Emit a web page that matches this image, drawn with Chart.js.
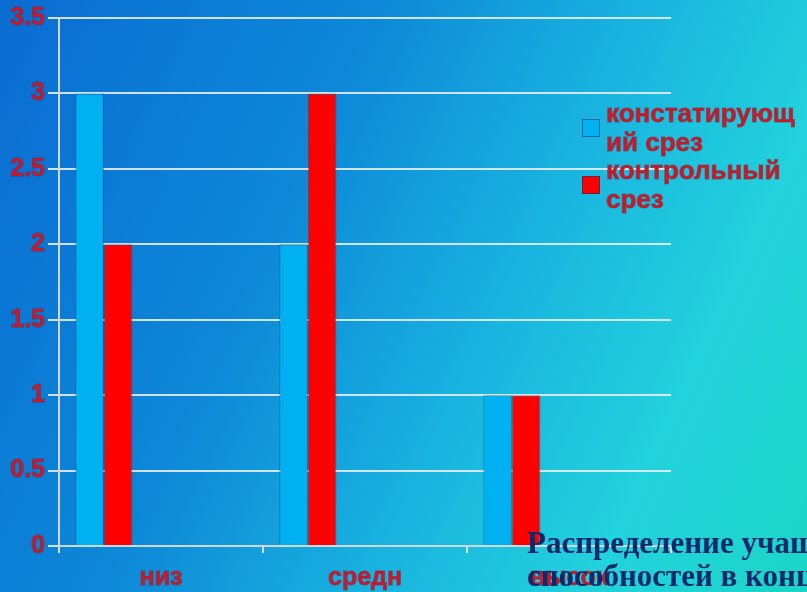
<!DOCTYPE html>
<html>
<head>
<meta charset="utf-8">
<script src="https://cdn.jsdelivr.net/npm/chart.js@4/dist/chart.umd.min.js"></script>
<style>
  html,body{margin:0;padding:0;}
  body{width:807px;height:592px;overflow:hidden;position:relative;
    background:linear-gradient(115deg,#0a6cd2 0%,#0d88d8 35%,#19b4e0 60%,#22d2dc 80%,#1ad6c6 100%);}
  #wrap{position:absolute;left:0;top:0;width:807px;height:592px;}
  #title{position:absolute;left:527px;top:526px;width:500px;
    font-family:"Liberation Serif","Times New Roman",serif;font-weight:bold;font-size:31px;
    line-height:33px;color:#0b2a6e;white-space:nowrap;}
</style>
</head>
<body>
<div id="wrap"><canvas id="c" width="807" height="592"></canvas></div>
<div id="title">Распределение учащихся по уровню<br>способностей в конце года</div>
<script>
const CATS = ["низ","средн","высок"];
const SERIES = ["констатирующ ий срез","контрольный срез"];
const VAL_KONST = [3,2,1];
const VAL_KONTR = [2,3,1];
const Y_MAX = 3.5, Y_STEP = 0.5;

const RED_TXT = "#c41a2b";
const COLORS = ["#00b0f0","#ff0000"];
const FONT = "'Liberation Sans', Arial, sans-serif";

// empty datasets push the pair to the left side of each category (as in the original)
const pad = () => ({ label:"", data:[null,null,null], backgroundColor:"transparent", hideLegend:true });

const legendPlugin = {
  id:"sideLegend",
  afterDraw(chart){
    const ctx = chart.ctx;
    const lines = [["констатирующ","ий срез"],["контрольный","срез"]];
    ctx.save();
    ctx.font = "bold 26px " + FONT;
    ctx.textBaseline = "middle";
    ctx.lineWidth = 1;
    let y = 115;
    chart.data.datasets.filter(d=>!d.hideLegend).forEach((d,i)=>{
      ctx.fillStyle = d.backgroundColor;
      ctx.fillRect(582, y+4, 18, 18);
      ctx.strokeStyle = "rgba(0,60,100,0.6)";
      ctx.strokeRect(582.5, y+4.5, 17, 17);
      ctx.strokeStyle = "rgba(110,0,20,0.45)";
      ctx.fillStyle = RED_TXT;
      lines[i].forEach((t,k)=>{
        ctx.strokeText(t, 606, y + k*28.5);
        ctx.fillText(t, 606, y + k*28.5);
      });
      y += 57;
    });
    ctx.restore();
  }
};

const tickFont = { family:FONT, size:25, weight:"bold" };

new Chart(document.getElementById("c"), {
  type:"bar",
  data:{
    labels:CATS,
    datasets:[
      { label:SERIES[0], data:VAL_KONST, backgroundColor:COLORS[0], borderColor:"rgba(0,70,110,0.55)", borderWidth:1 },
      { label:SERIES[1], data:VAL_KONTR, backgroundColor:COLORS[1], borderColor:"rgba(90,20,40,0.45)", borderWidth:1 },
      pad(), pad(), pad(), pad()
    ]
  },
  options:{
    responsive:false, animation:false,
    layout:{ padding:{ top:18, right:136, left:0, bottom:0 } },
    datasets:{ bar:{ categoryPercentage:0.84, barPercentage:1 } },
    plugins:{ legend:{ display:false }, tooltip:{ enabled:false } },
    scales:{
      x:{
        grid:{ drawOnChartArea:false, offset:true, color:"#d8dde2", tickLength:7, lineWidth:2 },
        border:{ color:"#cfd6dc", width:2 },
        ticks:{ color:RED_TXT, padding:10, font:tickFont, textStrokeColor:"rgba(110,0,20,0.45)", textStrokeWidth:1 },
        afterFit(s){ s.height = 46; }
      },
      y:{
        min:0, max:Y_MAX,
        grid:{ color:"rgba(230,236,240,0.9)", lineWidth:2, tickLength:11 },
        border:{ color:"#cfd6dc", width:2 },
        ticks:{ stepSize:Y_STEP, color:RED_TXT, padding:3, font:tickFont,
          textStrokeColor:"rgba(110,0,20,0.45)", textStrokeWidth:1,
          callback:v=>String(v) },
        afterFit(s){ s.width = 59; }
      }
    }
  },
  plugins:[legendPlugin]
});
</script>
</body>
</html>
